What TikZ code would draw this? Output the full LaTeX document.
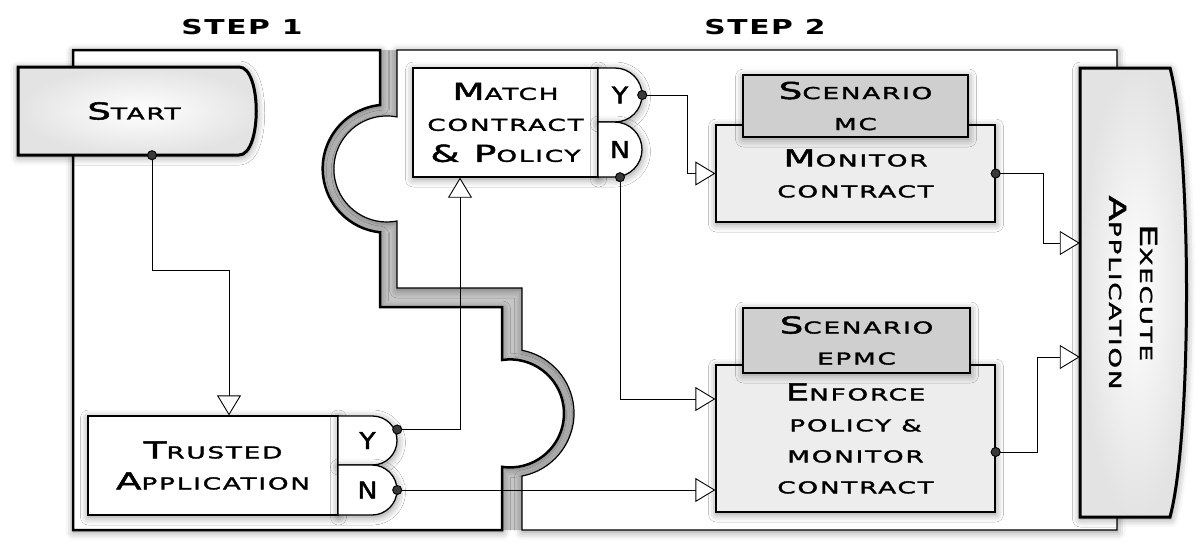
\documentclass[tikz,border=0pt]{standalone}
\usepackage{fontspec}
\usetikzlibrary{arrows.meta, shadows.blur}

\newfontfamily\diafont[FakeStretch=1.6, LetterSpace=11, FakeBold=2]{DejaVu Sans}
\newfontfamily\ynfont[FakeStretch=1.15, FakeBold=2]{DejaVu Sans}
\newfontfamily\headfont[FakeStretch=1.45, LetterSpace=8]{DejaVu Sans}
\newcommand{\initial}[1]{{\fontsize{23.3}{31}\selectfont #1}}

\tikzset{
  glow/.style={blur shadow={shadow xshift=0.5pt, shadow yshift=-2pt, shadow blur radius=8pt, shadow opacity=45}},
  txt/.style={font=\diafont\fontsize{16.4}{31}\selectfont, align=center, inner sep=0pt},
  yntxt/.style={font=\ynfont\fontsize{23.3}{31}\selectfont, inner sep=0pt},
  headtxt/.style={font=\headfont\bfseries\fontsize{20.5}{24}\selectfont},
  whitebox/.style={txt, draw, line width=1.3pt, fill=white, glow},
  answer/.style={draw, line width=1.3pt, fill=white, glow},
  taskbox/.style={txt, draw, line width=1.3pt, fill=gray!14, glow},
  scenbox/.style={txt, draw, line width=1.3pt, fill=gray!38, glow},
  terminal/.style={draw, line width=3pt, inner color=white, outer color=gray!22, glow},
  region/.style={fill=white, glow},
  conn/.style={line width=0.9pt, {Circle[length=10pt]}-{Triangle[fill=white, length=20pt, width=24pt]}, shorten <=-5pt}
}

\begin{document}
\begin{tikzpicture}[x=1pt, y=-1pt]
\useasboundingbox (0,0) rectangle (1198,542);

    % gap between the two steps
    \fill[gray!45] (380,50) -- (380,105) arc[start angle=264, end angle=96, radius=64]
        -- (380,307) -- (502,307) -- (502,360) arc[start angle=-98.5, end angle=98.5, radius=54]
        -- (502,530) -- (522,530) -- (522,476) arc[start angle=79.2, end angle=-79.2, radius=64]
        -- (522,288) -- (397,288) -- (397,221) arc[start angle=79, end angle=281, radius=53]
        -- (397,50) -- cycle;

    % step 1 area
    \draw[region, line width=2.5pt] (73,50) -- (380,50) -- (380,105)
        arc[start angle=264, end angle=96, radius=64] -- (380,307) -- (502,307) -- (502,360)
        arc[start angle=-98.5, end angle=98.5, radius=54] -- (502,530) -- (73,530) -- cycle;

    % step 2 area
    \draw[region, line width=1.2pt] (397,50) -- (1117,50) -- (1117,530) -- (522,530) -- (522,476)
        arc[start angle=79.2, end angle=-79.2, radius=64] -- (522,288) -- (397,288) -- (397,221)
        arc[start angle=79, end angle=281, radius=53] -- cycle;

    \node[headtxt] (step1) at (242,27) {STEP 1};
    \node[headtxt] (step2) at (765,27) {STEP 2};

    % Start
    \draw[terminal] (18,67) -- (239,67) .. controls (262,67) and (262,155) .. (239,155) -- (18,155) -- cycle;
    \node[txt, minimum width=229pt, minimum height=88pt] (start) at (134,111) {\initial{S}TART};

    % Trusted application
    \node[whitebox, minimum width=250pt, minimum height=99pt] (trusted) at (213,465.5) {\initial{T}RUSTED\\\initial{A}PPLICATION};
    \draw[answer] (338,416) -- (372.5,416) arc[start angle=-90, end angle=90, radius=24.5] -- (338,465) -- cycle;
    \draw[answer] (338,465) -- (372,465) arc[start angle=-90, end angle=90, radius=25] -- (338,515) -- cycle;
    \node[yntxt, minimum width=59pt, minimum height=49pt] (tyes) at (367.5,440.5) {Y};
    \node[yntxt, minimum width=59pt, minimum height=50pt] (tno) at (367.5,490) {N};

    % Match contract & policy
    \node[whitebox, minimum width=185pt, minimum height=109pt] (match) at (505.5,122.5) {\initial{M}ATCH\\CONTRACT\\\initial{\& P}OLICY};
    \draw[answer] (598,68) -- (615,68) arc[start angle=-90, end angle=90, radius=27] -- (598,122) -- cycle;
    \draw[answer] (598,122) -- (614.5,122) arc[start angle=-90, end angle=90, radius=27.5] -- (598,177) -- cycle;
    \node[yntxt, minimum width=44pt, minimum height=54pt] (myes) at (620,95) {Y};
    \node[yntxt, minimum width=44pt, minimum height=55pt] (mno) at (620,149.5) {N};

    % Monitor contract
    \node[taskbox, minimum width=279pt, minimum height=97pt] (monitor) at (855.5,173.5) {\initial{M}ONITOR\\CONTRACT};
    \node[scenbox, minimum width=225pt, minimum height=62pt] (scenmc) at (855.5,106) {\initial{S}CENARIO\\MC};

    % Enforce policy & monitor contract
    \node[taskbox, minimum width=279pt, minimum height=147pt] (enforce) at (855.5,438.5) {\initial{E}NFORCE\\POLICY \&\\MONITOR\\CONTRACT};
    \node[scenbox, minimum width=227pt, minimum height=65pt] (scenepmc) at (856.5,340.5) {\initial{S}CENARIO\\EPMC};

    % Execute application
    \draw[terminal] (1080,68) -- (1170,68) .. controls (1192,150) and (1192,435) .. (1170,517) -- (1080,517) -- cycle;
    \node[minimum width=90pt, minimum height=449pt] (exec) at (1125,292.5) {};
    \node[txt, rotate=-90] (exectxt) at (1133,292.5) {\initial{E}XECUTE\\\initial{A}PPLICATION};

    % connectors
    \coordinate (startbend) at (229,270);
    \draw[conn] ([xshift=18pt]start.south) |- (startbend) -- (startbend |- trusted.north);
    \coordinate (yesbend) at (460,429.5);
    \draw[conn] ([yshift=11pt]tyes.east) -- (yesbend) -- (yesbend |- match.south);
    \draw[conn] (tno.east) -- (tno.east -| enforce.west);
    \draw[conn] (myes.east) -- ++(45,0) |- (monitor.west);
    \coordinate (nobend) at (620,399);
    \draw[conn] (mno.south) -- (nobend) -- (nobend -| enforce.west);
    \draw[conn] (monitor.east) -- ++(48,0) |- ([yshift=49.5pt]exec.west);
    \draw[conn] ([yshift=-13.5pt]enforce.east) -- ++(42,0) |- ([yshift=-64.5pt]exec.west);

\end{tikzpicture}
\end{document}
